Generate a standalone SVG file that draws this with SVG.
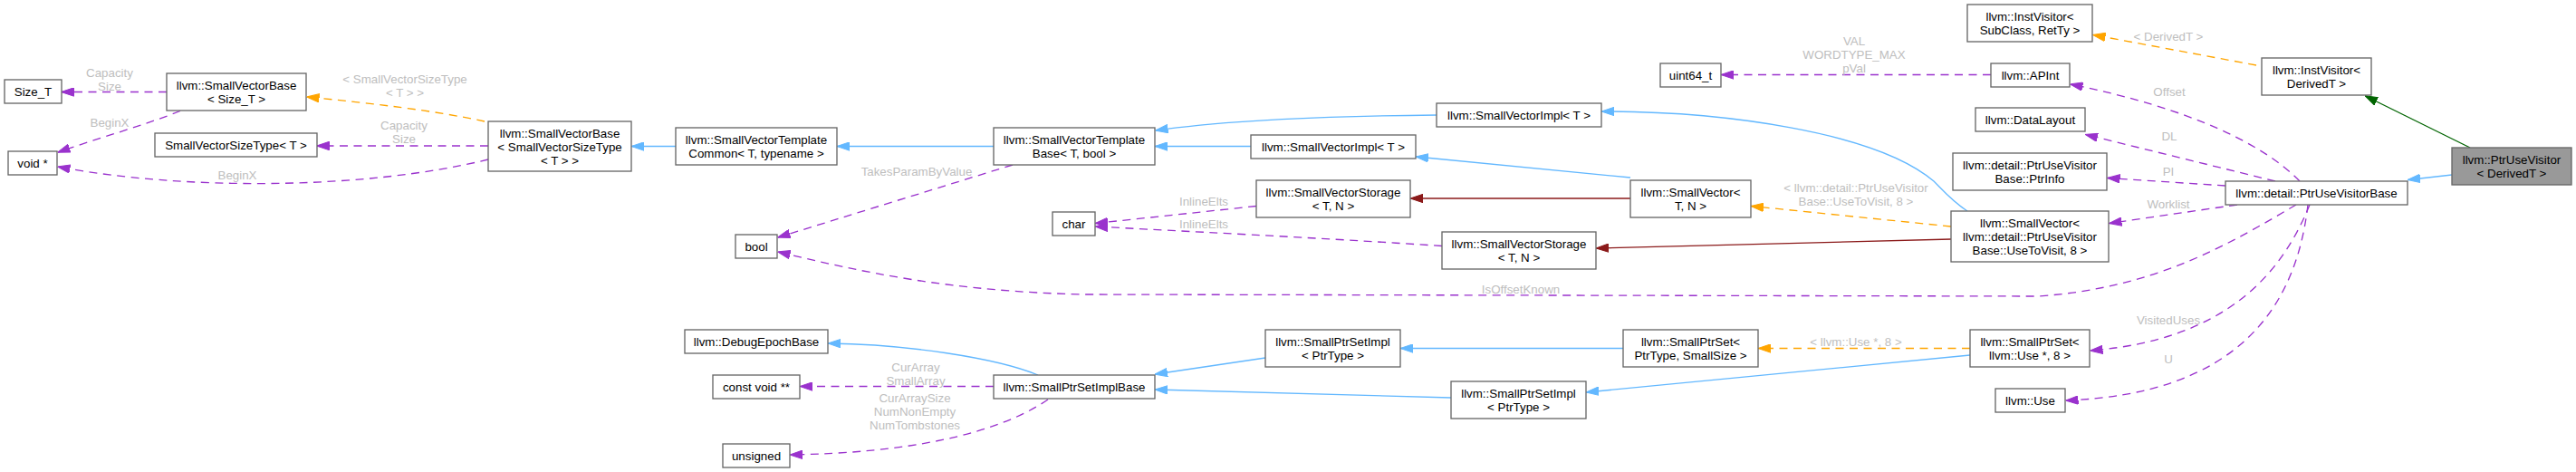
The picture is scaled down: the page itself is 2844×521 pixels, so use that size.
<svg xmlns="http://www.w3.org/2000/svg" width="2844" height="521" viewBox="0 0 2844 521">
<style>
.node rect{fill:#ffffff;stroke:#666666;stroke-width:1.33}
.node.main rect{fill:#999999}
text{font-family:"Liberation Sans",Arial,sans-serif;font-size:13.33px}
.node text{text-anchor:middle;fill:#000000}
.lbl{text-anchor:middle;fill:#bebebe}
.e{fill:none;stroke-width:1.33}
.blue{stroke:#63b8ff;marker-end:url(#mBlue)}
.purple{stroke:#9a32cd;stroke-dasharray:9,6.5;marker-end:url(#mPurple)}
.orange{stroke:#ffa500;stroke-dasharray:9,6.5;marker-end:url(#mOrange)}
.red{stroke:#8b1a1a;marker-end:url(#mRed)}
.green{stroke:#006400;marker-end:url(#mGreen)}
</style>
<defs>
<marker id="mBlue" markerUnits="userSpaceOnUse" markerWidth="14" markerHeight="10" viewBox="0 0 14 10" refX="13.5" refY="5" orient="auto"><path d="M0,0.3 L14,5 L0,9.7 z" fill="#63b8ff" stroke="#63b8ff"/></marker>
<marker id="mPurple" markerUnits="userSpaceOnUse" markerWidth="14" markerHeight="10" viewBox="0 0 14 10" refX="13.5" refY="5" orient="auto"><path d="M0,0.3 L14,5 L0,9.7 z" fill="#9a32cd" stroke="#9a32cd"/></marker>
<marker id="mOrange" markerUnits="userSpaceOnUse" markerWidth="14" markerHeight="10" viewBox="0 0 14 10" refX="13.5" refY="5" orient="auto"><path d="M0,0.3 L14,5 L0,9.7 z" fill="#ffa500" stroke="#ffa500"/></marker>
<marker id="mRed" markerUnits="userSpaceOnUse" markerWidth="14" markerHeight="10" viewBox="0 0 14 10" refX="13.5" refY="5" orient="auto"><path d="M0,0.3 L14,5 L0,9.7 z" fill="#8b1a1a" stroke="#8b1a1a"/></marker>
<marker id="mGreen" markerUnits="userSpaceOnUse" markerWidth="14" markerHeight="10" viewBox="0 0 14 10" refX="13.5" refY="5" orient="auto"><path d="M0,0.3 L14,5 L0,9.7 z" fill="#006400" stroke="#006400"/></marker>
</defs>
<rect x="0" y="0" width="2844" height="521" fill="#ffffff"/>

<g id="edges">
<path class="e purple" d="M184,101.5 L68,101.5"/>
<text class="lbl" x="121" y="84.5">Capacity</text><text class="lbl" x="121" y="99.5">Size</text>
<path class="e purple" d="M199,122.5 C160,138 110,152 64,168"/>
<text class="lbl" x="121" y="140">BeginX</text>
<path class="e orange" d="M535,134 C480,122 410,114 339,107"/>
<text class="lbl" x="447" y="92">&lt; SmallVectorSizeType</text><text class="lbl" x="447" y="107">&lt; T &gt; &gt;</text>
<path class="e purple" d="M539,161 L350,161"/>
<text class="lbl" x="446" y="143">Capacity</text><text class="lbl" x="446" y="158">Size</text>
<path class="e purple" d="M539,176 C400,210 200,210 64,184"/>
<text class="lbl" x="262" y="198">BeginX</text>
<path class="e blue" d="M746,161.5 L697.5,161.5"/>
<path class="e blue" d="M1097,161.5 L924.5,161.5"/>
<path class="e purple" d="M1118,182 L859,262"/>
<text class="lbl" x="1012" y="194">TakesParamByValue</text>
<path class="e blue" d="M1381,161.5 L1275.5,161.5"/>
<path class="e blue" d="M1586,127 C1480,128 1360,132 1276,144"/>
<path class="e blue" d="M1800,196 L1563.5,173"/>
<path class="e red" d="M1800,219 L1557.5,219"/>
<path class="e purple" d="M1387,227.5 L1209.5,246.5"/>
<text class="lbl" x="1329" y="227">InlineElts</text>
<path class="e purple" d="M1592,271.5 C1450,262 1300,255 1209.5,250"/>
<text class="lbl" x="1329" y="252">InlineElts</text>
<path class="e blue" d="M2172,233 C2155,222 2145,210 2135,200 C2070,145 1900,123 1768.5,123"/>
<path class="e orange" d="M2154,250 L1933.5,227.5"/>
<text class="lbl" x="2049" y="212">&lt; llvm::detail::PtrUseVisitor</text><text class="lbl" x="2049" y="227">Base::UseToVisit, 8 &gt;</text>
<path class="e red" d="M2154,264 L1762.5,274"/>
<path class="e purple" d="M2198,82.5 L1900.5,82.5"/>
<text class="lbl" x="2047" y="50">VAL</text><text class="lbl" x="2047" y="65">WORDTYPE_MAX</text><text class="lbl" x="2047" y="80">pVal</text>
<path class="e orange" d="M2491,72 L2311,38.5"/>
<text class="lbl" x="2394" y="44.5">&lt; DerivedT &gt;</text>
<path class="e green" d="M2727,163 L2611.5,106"/>
<path class="e blue" d="M2707,193 L2658.5,198.5"/>
<path class="e purple" d="M2539,200 C2500,160 2420,120 2286,93"/>
<text class="lbl" x="2395" y="105.5">Offset</text>
<path class="e purple" d="M2512,200 L2302.5,148.5"/>
<text class="lbl" x="2395" y="154.5">DL</text>
<path class="e purple" d="M2457,205 L2327,196.5"/>
<text class="lbl" x="2394" y="194">PI</text>
<path class="e purple" d="M2470,226 L2329,246.5"/>
<text class="lbl" x="2394" y="230">Worklist</text>
<path class="e purple" d="M2535,226 C2460,270 2380,318 2250,327 L1200,325 C1050,322 950,300 859,278"/>
<text class="lbl" x="1679" y="324">IsOffsetKnown</text>
<path class="e purple" d="M2550,226 C2520,300 2460,375 2308,387"/>
<text class="lbl" x="2394" y="358">VisitedUses</text>
<path class="e purple" d="M2548,226 C2535,340 2470,435 2281,442"/>
<text class="lbl" x="2394" y="401">U</text>
<path class="e blue" d="M1146,414 C1100,395 1000,380 914.5,379"/>
<path class="e purple" d="M1097,426.5 L883.5,426.5"/>
<text class="lbl" x="1011" y="409.5">CurArray</text><text class="lbl" x="1011" y="424.5">SmallArray</text>
<path class="e purple" d="M1157,441 C1100,480 1000,500 872.5,502"/>
<text class="lbl" x="1010" y="444">CurArraySize</text><text class="lbl" x="1010" y="459">NumNonEmpty</text><text class="lbl" x="1010" y="474">NumTombstones</text>
<path class="e blue" d="M1397,395 L1275.5,413"/>
<path class="e blue" d="M1602,439 L1275.5,430"/>
<path class="e blue" d="M1792,384.5 L1546.5,384.5"/>
<path class="e orange" d="M2175,384.5 L1941.5,384.5"/>
<text class="lbl" x="2049" y="382">&lt; llvm::Use *, 8 &gt;</text>
<path class="e blue" d="M2175,392 L1751.5,433"/>
</g>

<g id="n_size_t" class="node"><rect x="5" y="88" width="63" height="26"/><text x="36.5" y="106">Size_T</text></g>
<g id="n_svbase_size_t" class="node"><rect x="184" y="81" width="154" height="41"/><text x="261" y="99">llvm::SmallVectorBase</text><text x="261" y="114">&lt; Size_T &gt;</text></g>
<g id="n_svsizetype" class="node"><rect x="171" y="147" width="179" height="26"/><text x="260.5" y="165">SmallVectorSizeType&lt; T &gt;</text></g>
<g id="n_voidptr" class="node"><rect x="9" y="167" width="54" height="26"/><text x="36" y="185">void *</text></g>
<g id="n_svbase_svst" class="node"><rect x="539" y="134" width="158" height="55"/><text x="618" y="151.5">llvm::SmallVectorBase</text><text x="618" y="166.5">&lt; SmallVectorSizeType</text><text x="618" y="181.5">&lt; T &gt; &gt;</text></g>
<g id="n_svtc" class="node"><rect x="746" y="141" width="178" height="41"/><text x="835" y="159">llvm::SmallVectorTemplate</text><text x="835" y="174">Common&lt; T, typename &gt;</text></g>
<g id="n_svtb" class="node"><rect x="1097" y="141" width="178" height="41"/><text x="1186" y="159">llvm::SmallVectorTemplate</text><text x="1186" y="174">Base&lt; T, bool &gt;</text></g>
<g id="n_bool" class="node"><rect x="812" y="259" width="46" height="26"/><text x="835" y="277">bool</text></g>
<g id="n_svimpl_a" class="node"><rect x="1586" y="114" width="182" height="26"/><text x="1677" y="132">llvm::SmallVectorImpl&lt; T &gt;</text></g>
<g id="n_svimpl_b" class="node"><rect x="1381" y="149" width="182" height="26"/><text x="1472" y="167">llvm::SmallVectorImpl&lt; T &gt;</text></g>
<g id="n_svstorage_a" class="node"><rect x="1387" y="199" width="170" height="41"/><text x="1472" y="217">llvm::SmallVectorStorage</text><text x="1472" y="232">&lt; T, N &gt;</text></g>
<g id="n_char" class="node"><rect x="1162" y="234" width="47" height="26"/><text x="1185.5" y="252">char</text></g>
<g id="n_smallvector" class="node"><rect x="1800" y="199" width="133" height="41"/><text x="1866.5" y="217">llvm::SmallVector&lt;</text><text x="1866.5" y="232">T, N &gt;</text></g>
<g id="n_svstorage_b" class="node"><rect x="1592" y="256" width="170" height="41"/><text x="1677" y="274">llvm::SmallVectorStorage</text><text x="1677" y="289">&lt; T, N &gt;</text></g>
<g id="n_uint64" class="node"><rect x="1833" y="70" width="67" height="26"/><text x="1866.5" y="88">uint64_t</text></g>
<g id="n_apint" class="node"><rect x="2198" y="70" width="87" height="26"/><text x="2241.5" y="88">llvm::APInt</text></g>
<g id="n_instvisitor_sub" class="node"><rect x="2172" y="5" width="138" height="41"/><text x="2241" y="23">llvm::InstVisitor&lt;</text><text x="2241" y="38">SubClass, RetTy &gt;</text></g>
<g id="n_datalayout" class="node"><rect x="2181" y="119" width="121" height="26"/><text x="2241.5" y="137">llvm::DataLayout</text></g>
<g id="n_ptrinfo" class="node"><rect x="2156" y="169" width="170" height="41"/><text x="2241" y="187">llvm::detail::PtrUseVisitor</text><text x="2241" y="202">Base::PtrInfo</text></g>
<g id="n_sv_usetovisit" class="node"><rect x="2154" y="233" width="174" height="56"/><text x="2241" y="250.5">llvm::SmallVector&lt;</text><text x="2241" y="265.5">llvm::detail::PtrUseVisitor</text><text x="2241" y="280.5">Base::UseToVisit, 8 &gt;</text></g>
<g id="n_instvisitor_derived" class="node"><rect x="2497" y="64" width="121" height="41"/><text x="2557.5" y="82">llvm::InstVisitor&lt;</text><text x="2557.5" y="97">DerivedT &gt;</text></g>
<g id="n_ptrusevisitor" class="node main"><rect x="2707" y="163" width="132" height="41"/><text x="2773" y="181">llvm::PtrUseVisitor</text><text x="2773" y="196">&lt; DerivedT &gt;</text></g>
<g id="n_ptrusevisitorbase" class="node"><rect x="2457" y="200" width="201" height="26"/><text x="2557.5" y="218">llvm::detail::PtrUseVisitorBase</text></g>
<g id="n_debugepoch" class="node"><rect x="756" y="364" width="158" height="26"/><text x="835" y="382">llvm::DebugEpochBase</text></g>
<g id="n_constvoid" class="node"><rect x="787" y="414" width="96" height="26"/><text x="835" y="432">const void **</text></g>
<g id="n_unsigned" class="node"><rect x="798" y="490" width="74" height="26"/><text x="835" y="508">unsigned</text></g>
<g id="n_spsimplbase" class="node"><rect x="1097" y="414" width="178" height="26"/><text x="1186" y="432">llvm::SmallPtrSetImplBase</text></g>
<g id="n_spsimpl_a" class="node"><rect x="1397" y="364" width="149" height="41"/><text x="1471.5" y="382">llvm::SmallPtrSetImpl</text><text x="1471.5" y="397">&lt; PtrType &gt;</text></g>
<g id="n_spsimpl_b" class="node"><rect x="1602" y="421" width="149" height="41"/><text x="1676.5" y="439">llvm::SmallPtrSetImpl</text><text x="1676.5" y="454">&lt; PtrType &gt;</text></g>
<g id="n_sps_generic" class="node"><rect x="1792" y="364" width="149" height="41"/><text x="1866.5" y="382">llvm::SmallPtrSet&lt;</text><text x="1866.5" y="397">PtrType, SmallSize &gt;</text></g>
<g id="n_sps_use" class="node"><rect x="2175" y="364" width="132" height="41"/><text x="2241" y="382">llvm::SmallPtrSet&lt;</text><text x="2241" y="397">llvm::Use *, 8 &gt;</text></g>
<g id="n_use" class="node"><rect x="2203" y="429" width="77" height="26"/><text x="2241.5" y="447">llvm::Use</text></g>
</svg>
